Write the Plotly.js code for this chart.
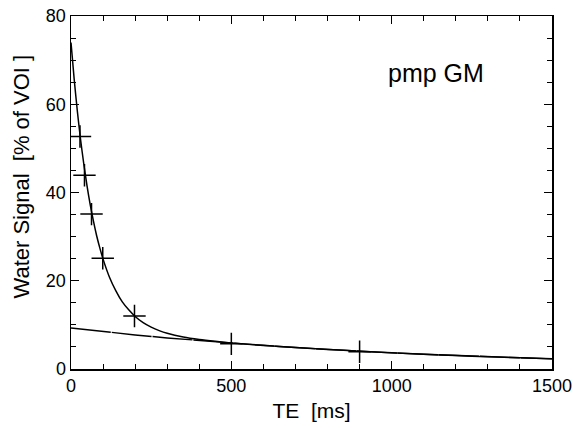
<!DOCTYPE html>
<html>
<head>
<meta charset="utf-8">
<script src="https://cdn.plot.ly/plotly-3.0.1.min.js"></script>
<style>html,body{margin:0;padding:0;background:#fff;}#chart{width:573px;height:428px;}</style>
</head>
<body>
<div id="chart"></div>
<script>
// Measured data points (TE in ms, water signal in % of VOI)
const measTE = [28, 42, 64, 99, 198, 500, 900];
const measSignal = [52.7, 43.9, 35.1, 25.1, 12.0, 5.7, 3.9];

// Bi-exponential fit curve
const fitTE = [0, 10, 20, 30, 40, 50, 60, 70, 80, 90, 100, 120, 140, 160, 180, 200, 225, 250, 275, 300, 350, 400, 450, 500, 600, 700, 800, 900, 1000, 1100, 1200, 1300, 1400, 1500];
const fitSignal = [74.0, 65.6, 58.3, 51.9, 46.4, 41.5, 37.2, 33.5, 30.2, 27.4, 24.9, 20.8, 17.7, 15.2, 13.4, 11.9, 10.5, 9.48, 8.70, 8.10, 7.26, 6.69, 6.27, 5.92, 5.36, 4.86, 4.43, 4.02, 3.66, 3.34, 3.04, 2.77, 2.53, 2.30];

// Slow component line
const slowTE = [0, 100, 200, 300, 400, 500, 600, 700, 800, 900, 1000, 1100, 1200, 1300, 1400, 1500];
const slowSignal = [9.3, 8.48, 7.72, 7.04, 6.42, 5.85, 5.34, 4.86, 4.43, 4.02, 3.66, 3.34, 3.04, 2.77, 2.53, 2.30];

const xTicks = [0, 500, 1000, 1500];
const yTicks = [0, 20, 40, 60, 80];
const label = 'pmp GM';
const yTitle = 'Water Signal  [% of VOI ]';
const xTitle = 'TE  [ms]';

const font = 'Liberation Sans, Arial, Helvetica, sans-serif';

const traces = [
  {x: slowTE, y: slowSignal, mode: 'lines', line: {color: '#000', width: 1.4, dash: '40px,1px'}, hoverinfo: 'skip'},
  {x: fitTE, y: fitSignal, mode: 'lines', line: {color: '#000', width: 1.5, shape: 'spline', smoothing: 0.6}, hoverinfo: 'skip'},
  {x: measTE, y: measSignal, mode: 'markers', marker: {symbol: 'cross-thin', size: 16, color: '#000', line: {color: '#000', width: 1.5}}}
];

const axisCommon = {
  showgrid: false, zeroline: false, showline: true, linecolor: '#000', linewidth: 1.5,
  mirror: 'allticks', ticks: 'inside', ticklen: 8, tickwidth: 1.2, tickcolor: '#000',
  tickfont: {family: font, size: 18, color: '#000'}
};

const layout = {
  width: 573, height: 428,
  margin: {l: 71, r: 21, t: 16, b: 59},
  paper_bgcolor: '#fff', plot_bgcolor: '#fff',
  showlegend: false,
  xaxis: Object.assign({}, axisCommon, {
    range: [0, 1500], tickvals: xTicks, ticktext: xTicks.map(String),
    minor: {dtick: 100, ticks: 'inside', ticklen: 5, tickwidth: 1, tickcolor: '#000', showgrid: false},
    title: {text: xTitle, font: {family: font, size: 21, color: '#000'}, standoff: 8}
  }),
  yaxis: Object.assign({}, axisCommon, {
    range: [0, 80], tickvals: yTicks, ticktext: yTicks.map(String),
    minor: {dtick: 5, ticks: 'inside', ticklen: 5, tickwidth: 1, tickcolor: '#000', showgrid: false}
  }),
  annotations: [{
    x: 1137, y: 67, xref: 'x', yref: 'y', text: label, showarrow: false,
    font: {family: font, size: 25, color: '#000'}
  }, {
    x: -0.102, y: 0.545, xref: 'paper', yref: 'paper', text: yTitle, textangle: -90,
    showarrow: false, xanchor: 'center', yanchor: 'middle',
    font: {family: font, size: 22, color: '#000'}
  }]
};

Plotly.newPlot('chart', traces, layout, {staticPlot: true, displayModeBar: false});
</script>
</body>
</html>
